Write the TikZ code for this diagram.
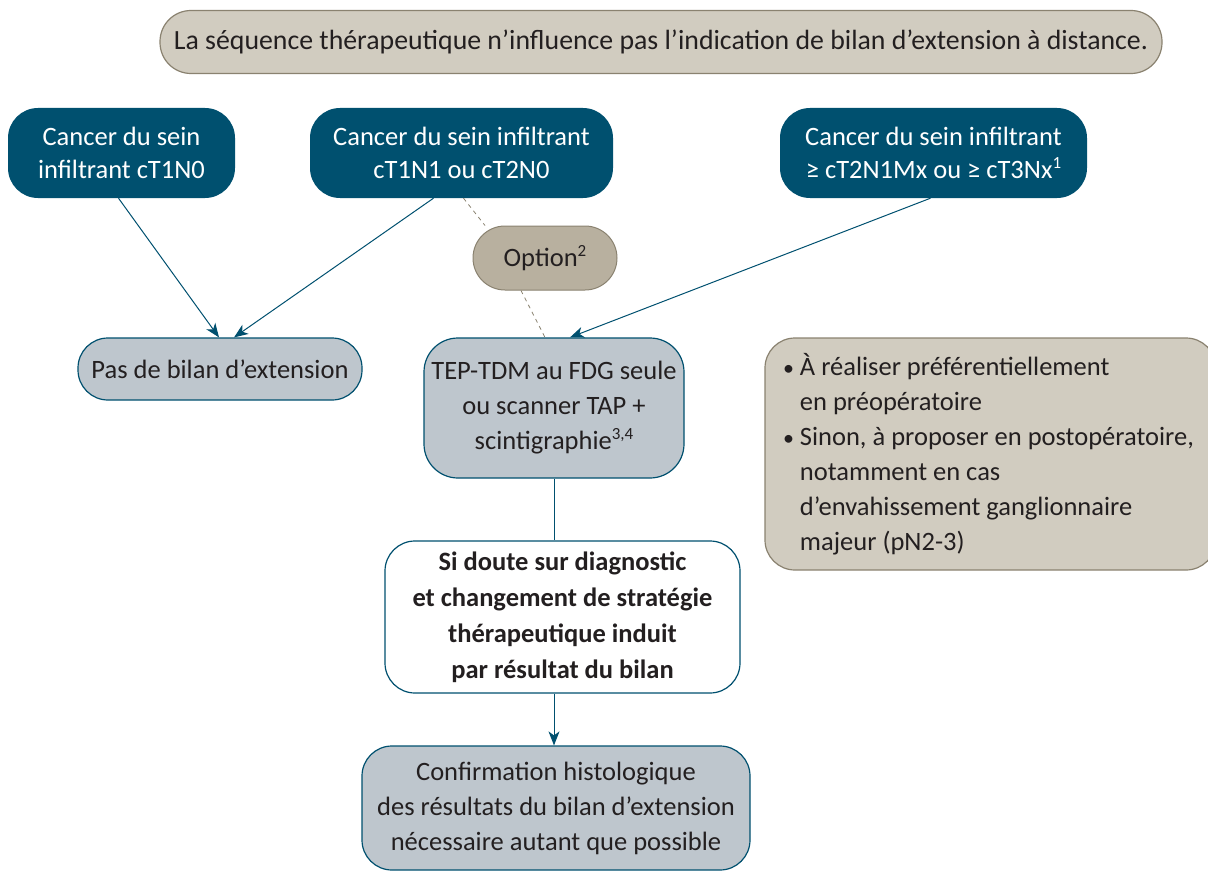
\documentclass[tikz,border=0pt]{standalone}
\usepackage{fontspec}
\setmainfont{Carlito}
\usetikzlibrary{arrows.meta,positioning}
\definecolor{petrol}{HTML}{00506F}
\definecolor{greyblue}{HTML}{BEC6CD}
\definecolor{sand}{HTML}{D1CCC0}
\definecolor{sanddark}{HTML}{B8B09F}
\definecolor{sandline}{HTML}{8A8270}
\definecolor{ink}{HTML}{231F20}
\newcommand{\fnref}[1]{\raisebox{0.38em}{\fontsize{17}{17}\selectfont #1}}
\newcommand{\bul}{{\fontsize{22}{22}\selectfont•}\ }

\begin{document}
\begin{tikzpicture}[x=1pt,y=-1pt,
	every node/.style={font=\fontsize{26.5}{35}\selectfont, align=center, inner sep=0pt, text=ink},
	darkbox/.style={fill=petrol, text=white, rounded corners=30pt, font=\fontsize{26.5}{33}\selectfont},
	lightbox/.style={fill=greyblue, draw=petrol, line width=1.2pt, rounded corners=30pt},
	sandbox/.style={fill=sand, draw=sandline, line width=1.2pt, rounded corners=30pt},
	flow/.style={draw=petrol, line width=1pt, -{Stealth[length=14pt,width=11pt,inset=4pt]}},
	option/.style={draw=sandline, line width=0.8pt, dash pattern=on 4pt off 4pt}]
	\useasboundingbox (0,0) rectangle (1208,872);
	
	\node[sandbox, rounded corners=31pt, minimum width=1002, minimum height=63, font=\fontsize{27.8}{35}\selectfont] (banner) at (661,42) {La séquence thérapeutique n’influence pas l’indication de bilan d’extension à distance.};
	
	% starting points
	\node[darkbox, minimum width=227, minimum height=90] (t1n0) at (121.5,153) {Cancer du sein\\infiltrant cT1N0};
	\node[darkbox, minimum width=303, minimum height=90] (t1n1) at (461.5,153) {Cancer du sein infiltrant\\cT1N1 ou cT2N0};
	\node[darkbox, minimum width=307, minimum height=90] (t2n1) at (933.5,153) {Cancer du sein infiltrant\\≥ cT2N1Mx ou ≥ cT3Nx\fnref{1}};
	
	\node[fill=sanddark, draw=sandline, line width=1pt, rounded corners=32pt, minimum width=144, minimum height=64] (opt) at (545,258) {Option\fnref{2}};
	
	\node[lightbox, minimum width=284, minimum height=62] (none) at (220,369) {Pas de bilan d’extension};
	\node[lightbox, rounded corners=34pt, minimum width=260, minimum height=140] (tep) at (554,408) {TEP-TDM au FDG seule\\ou scanner TAP +\\scintigraphie\fnref{3,4}};
	
	\node[sandbox, text width=415, inner xsep=18pt, minimum height=232, align=flush left] (note) at (990.5,454) {\bul À réaliser préférentiellement\\\hphantom{\bul}en préopératoire\\\bul Sinon, à proposer en postopératoire,\\\hphantom{\bul}notamment en cas\\\hphantom{\bul}d’envahissement ganglionnaire\\\hphantom{\bul}majeur (pN2-3)};
	
	\node[fill=white, draw=petrol, line width=1.2pt, rounded corners=30pt, minimum width=355, minimum height=152, font=\fontsize{26.5}{36}\bfseries] (doubt) at (562.5,617) {Si doute sur diagnostic\\et changement de stratégie\\thérapeutique induit\\par résultat du bilan};
	
	\node[lightbox, minimum width=388, minimum height=124] (histo) at (556,808) {Confirmation histologique\\des résultats du bilan d’extension\\nécessaire autant que possible};
	
	% connectors
	\draw[flow] ([xshift=-3]t1n0.south) -- ([xshift=-1]none.north);
	\draw[flow] ([xshift=-28]t1n1.south) -- ([xshift=14]none.north);
	\draw[flow] ([xshift=-3]t2n1.south) -- ([xshift=16]tep.north);
	\draw[option] ([xshift=2]t1n1.south) -- ([xshift=-60]opt.north);
	\draw[option] ([xshift=-24]opt.south) -- ([xshift=-9]tep.north);
	\draw[petrol, line width=1pt] (tep.south) -- (tep.south |- doubt.north);
	\draw[flow] (doubt.south -| tep.south) -- (tep.south |- histo.north);
\end{tikzpicture}
\end{document}
